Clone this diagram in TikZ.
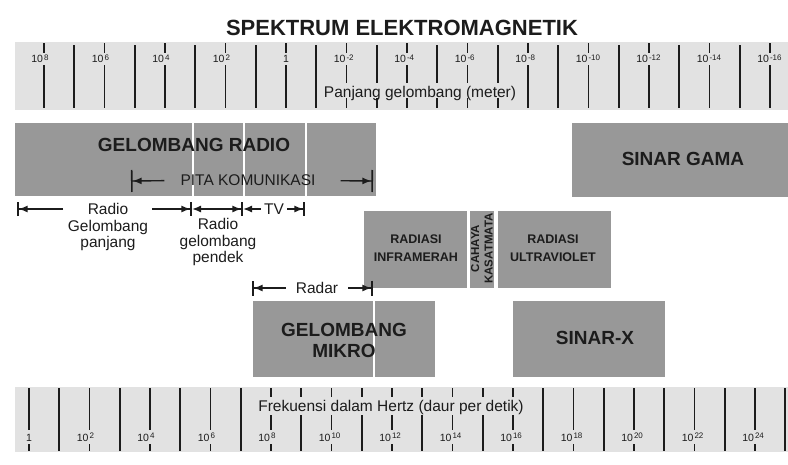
\documentclass[tikz,border=0pt]{standalone}
\usepackage{fontspec}
\setmainfont{Liberation Sans}
\usetikzlibrary{arrows.meta}

\definecolor{stripgray}{RGB}{226,226,226}
\definecolor{bandgray}{RGB}{152,152,152}
\definecolor{ink}{RGB}{28,28,28}

% "10" left of the tick, exponent right of it
\newcommand{\tenpow}[1]{\llap{10\kern1pt}\rlap{\raisebox{2.5pt}{\fontsize{8}{9}\selectfont#1}}}

\tikzset{
  strip/.style={fill=stripgray},
  band/.style={fill=bandgray},
  divider/.style={white, line width=1.5pt},
  tick/.style={ink, line width=1.6pt},
  ticklabel/.style={font=\fontsize{10.5}{12}\selectfont, text=ink, inner sep=0pt},
  heading/.style={font=\bfseries\fontsize{22}{24}\selectfont, text=ink, inner sep=0pt},
  bigname/.style={font=\bfseries\fontsize{19}{21}\selectfont, text=ink, align=center, inner sep=0pt},
  smallname/.style={font=\bfseries\fontsize{12.5}{18}\selectfont, text=ink, align=center, inner sep=0pt},
  plain/.style={font=\fontsize{15.5}{16.5}\selectfont, text=ink, align=center, inner sep=0pt},
  dim/.style={ink, line width=1.4pt},
  dimto/.style={-{Latex[length=9pt,width=7pt]}},
  dimtobar/.style={-{Latex[length=9pt,width=7pt]Bar[width=#1,line width=1.6pt]}},
}

\begin{document}
\begin{tikzpicture}[x=1pt, y=-1pt]
\useasboundingbox (0,0) rectangle (788,464);

% Title
\node[heading] (title) at (402,27.5) {SPEKTRUM ELEKTROMAGNETIK};

% Wavelength scale
\fill[strip] (15,42) rectangle (788,110);
\foreach \i in {0,...,24}{
  \pgfmathsetmacro{\xw}{44+30.25*\i}
  \pgfmathtruncatemacro{\ew}{8-\i}
  \pgfmathtruncatemacro{\inword}{and(\xw>320,\xw<520)}
  \ifodd\i
    \ifnum\inword=1
      \draw[tick] (\xw,45) -- (\xw,83) (\xw,98) -- (\xw,108);
    \else
      \draw[tick] (\xw,45) -- (\xw,108);
    \fi
  \else
    \draw[tick] (\xw,43) -- (\xw,53);
    \ifnum\inword=1
      \draw[tick] (\xw,65) -- (\xw,83) (\xw,98) -- (\xw,108);
    \else
      \draw[tick] (\xw,65) -- (\xw,108);
    \fi
    \ifnum\ew=0
      \node[ticklabel] (w\i) at (\xw,59) {1};
    \else
      \node[ticklabel] (w\i) at (\xw,59) {\tenpow{\ew}};
    \fi
  \fi
}
\node[plain] (wave) at (420,93) {Panjang gelombang (meter)};

% Frequency scale
\fill[strip] (15,387) rectangle (788,452);
\foreach \j in {0,...,25}{
  \pgfmathsetmacro{\xf}{29+30.25*\j}
  \pgfmathtruncatemacro{\inword}{and(\xf>250,\xf<530)}
  \ifodd\j
    \ifnum\inword=1
      \draw[tick] (\xf,388) -- (\xf,397) (\xf,415) -- (\xf,451);
    \else
      \draw[tick] (\xf,388) -- (\xf,451);
    \fi
  \else
    \draw[tick] (\xf,444) -- (\xf,451);
    \ifnum\inword=1
      \draw[tick] (\xf,388) -- (\xf,397) (\xf,415) -- (\xf,430);
    \else
      \draw[tick] (\xf,388) -- (\xf,430);
    \fi
    \ifnum\j=0
      \node[ticklabel] (f\j) at (\xf,437.5) {1};
    \else
      \node[ticklabel] (f\j) at (\xf,437.5) {\tenpow{\j}};
    \fi
  \fi
}
\node[plain] (freq) at (391,407) {Frekuensi dalam Hertz (daur per detik)};

% Radio waves
\fill[band] (15,123) rectangle (376,196);
\draw[divider] (193,123) -- (193,196) (244,123) -- (244,196) (306,123) -- (306,196);
\node[bigname] (radio) at (194,144.5) {GELOMBANG RADIO};
\node[plain] (pita) at (248,180.5) {PITA KOMUNIKASI};
\coordinate (pitaL) at (131,181);
\coordinate (pitaR) at (373,181);
\draw[dim, dimtobar=22pt, shorten <=16pt] (pita.west) -- (pitaL);
\draw[dim, dimtobar=22pt, shorten <=25pt] (pita.east) -- (pitaR);

% Radio bands
\node[plain] (longwave) at (108,227) {Radio\\Gelombang\\panjang};
\node[plain] (shortwave) at (218,242) {Radio\\gelombang\\pendek};
\node[plain] (tv) at (274,209) {TV};
\coordinate (lwA) at (63,209);
\coordinate (lwL) at (17,209);
\coordinate (lwB) at (152,209);
\coordinate (swL) at (192,209);
\coordinate (swR) at (243,209);
\coordinate (tvR) at (305,209);
\draw[dim, dimtobar=14pt] (lwA) -- (lwL);
\draw[dim, dimtobar=14pt] (lwB) -- (swL);
\draw[dim, {Latex[length=9pt,width=7pt]}-{Latex[length=9pt,width=7pt]Bar[width=14pt,line width=1.6pt]}] (swL) -- (swR);
\draw[dim, dimto, shorten <=3pt] (tv.west) -- (swR);
\draw[dim, dimtobar=14pt, shorten <=3pt] (tv.east) -- (tvR);

% Gamma rays
\fill[band] (572,123) rectangle (788,197);
\node[bigname] (gamma) at (683,159) {SINAR GAMA};

% Infrared, visible light, ultraviolet
\fill[band] (364,211) rectangle (467,288);
\fill[band] (470,211) rectangle (494,288);
\fill[band] (498,211) rectangle (611,288);
\node[smallname] (ir) at (416,248.5) {RADIASI\\INFRAMERAH};
\node[smallname, rotate=90, font=\bfseries\fontsize{11.5}{13.5}\selectfont] (visible) at (482,248.5) {CAHAYA\\KASATMATA};
\node[smallname] (uv) at (553,248.5) {RADIASI\\ULTRAVIOLET};

% Radar
\node[plain] (radar) at (317,288) {Radar};
\coordinate (radarL) at (252,288);
\coordinate (radarR) at (373,288);
\draw[dim, dimtobar=15pt, shorten <=10pt] (radar.west) -- (radarL);
\draw[dim, dimtobar=15pt, shorten <=10pt] (radar.east) -- (radarR);

% Microwaves
\fill[band] (253,301) rectangle (435,377);
\draw[divider] (374,301) -- (374,377);
\node[bigname] (micro) at (344,340) {GELOMBANG\\MIKRO};

% X-rays
\fill[band] (513,301) rectangle (665,377);
\node[bigname] (xray) at (595,338) {SINAR-X};

\end{tikzpicture}
\end{document}
